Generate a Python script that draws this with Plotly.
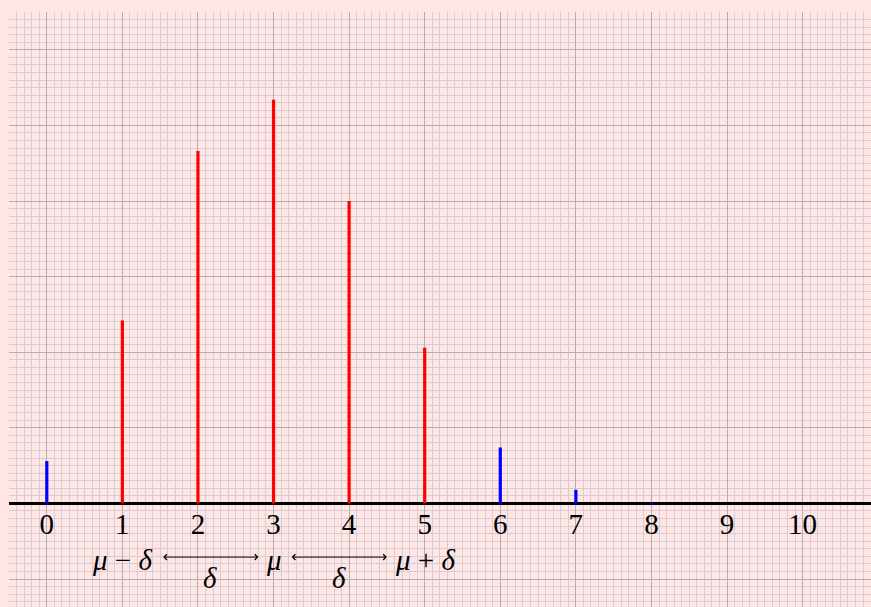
import plotly.graph_objects as go

# Data
k_values = [0, 1, 2, 3, 4, 5, 6, 7, 8, 9, 10]
probabilities = [0.028, 0.121, 0.233, 0.267, 0.200, 0.103, 0.037, 0.009, 0.001, 0.0001, 0.0]
inside_band = [False, True, True, True, True, True, False, False, False, False, False]
tick_labels = ["0", "1", "2", "3", "4", "5", "6", "7", "8", "9", "10"]

mu = 3
delta = 2

X_RANGE = [-0.5, 10.905]
Y_RANGE = [-0.0685, 0.3250]

BG = "#FFE5E5"
MINOR = "#D4CFCF"
MAJOR = "#B4AEAE"
FONT = "Liberation Serif"

fig = go.Figure()

for inside, color in [(True, "#FF0000"), (False, "#0000FF")]:
    xs, ys = [], []
    for k, p, flag in zip(k_values, probabilities, inside_band):
        if flag == inside and p > 0:
            xs += [k, k, None]
            ys += [0, p, None]
    fig.add_trace(go.Scatter(x=xs, y=ys, mode="lines",
                             line=dict(color=color, width=3.2),
                             hoverinfo="skip", showlegend=False))

label_y = -0.0375
delta_y = -0.0495
labels = [
    (mu - delta, "<i>μ</i> − <i>δ</i>"),
    (mu, "<i>μ</i>"),
    (mu + delta, "<i>μ</i> + <i>δ</i>"),
]
for x, t in labels:
    fig.add_annotation(x=x, y=label_y, text=t, showarrow=False,
                       xanchor="center", yanchor="middle",
                       font=dict(family=FONT, size=29, color="black"))

arrows = [(1.52, 2.80), (3.22, 4.50)]
for x0, x1 in arrows:
    fig.add_annotation(x=x1, y=-0.0355, ax=x0, ay=-0.0355,
                       xref="x", yref="y", axref="x", ayref="y",
                       text="", showarrow=True, arrowside="end+start",
                       arrowhead=4, arrowsize=1.1, arrowwidth=1, arrowcolor="black",
                       standoff=0, startstandoff=0)
    fig.add_annotation(x=(x0 + x1) / 2, y=delta_y, text="<i>δ</i>", showarrow=False,
                       xanchor="center", yanchor="middle",
                       font=dict(family=FONT, size=29, color="black"))

pos = (0 - Y_RANGE[0]) / (Y_RANGE[1] - Y_RANGE[0])

fig.update_layout(
    width=871, height=607,
    margin=dict(l=9, r=0, t=12, b=0, pad=0),
    paper_bgcolor=BG, plot_bgcolor=BG,
    showlegend=False,
    xaxis=dict(range=X_RANGE, tickmode="array", tickvals=k_values, ticktext=tick_labels,
               anchor="free", position=pos, side="bottom",
               showgrid=True, gridcolor=MAJOR, gridwidth=1.2,
               minor=dict(dtick=0.1, tick0=0, showgrid=True, gridcolor=MINOR, gridwidth=1),
               zeroline=False, showline=False, ticks="", ticklabelstandoff=1,
               tickfont=dict(family=FONT, size=29, color="black"), fixedrange=True),
    yaxis=dict(range=Y_RANGE, tick0=0, dtick=0.05, showticklabels=False,
               showgrid=True, gridcolor=MAJOR, gridwidth=1.2,
               minor=dict(dtick=0.005, tick0=0, showgrid=True, gridcolor=MINOR, gridwidth=1),
               zeroline=True, zerolinecolor="black", zerolinewidth=3,
               showline=False, ticks="", fixedrange=True),
)

fig.write_html(
    "out.html",
    config={"displayModeBar": False},
    post_script="document.body.style.margin='0';document.body.style.background='#FFE5E5';",
)
